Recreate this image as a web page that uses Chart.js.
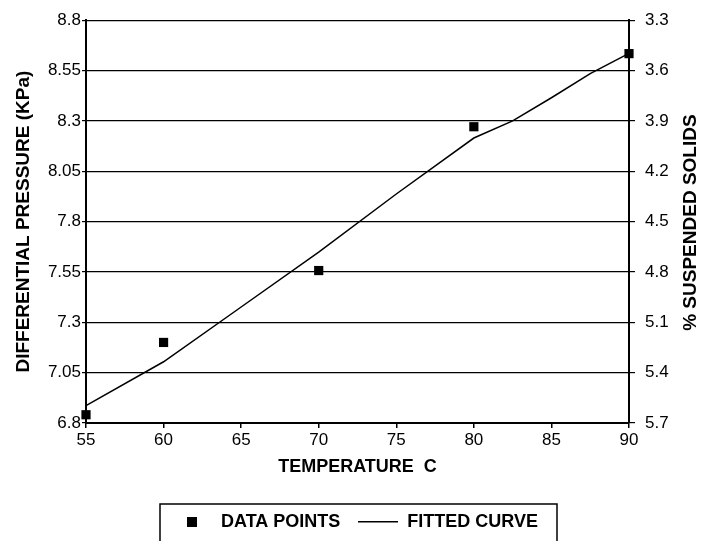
<!DOCTYPE html>
<html>
<head>
<meta charset="utf-8">
<script src="https://cdn.jsdelivr.net/npm/chart.js@4.4.1/dist/chart.umd.min.js"></script>
<style>
body { margin: 0; background: #fff; }
canvas { display: block; }
</style>
</head>
<body>
<canvas id="myChart" width="710" height="541"></canvas>
<script>
// measured points
var temps = [55, 60, 70, 80, 90];
var pressures = [6.841, 7.20, 7.557, 8.271, 8.634];

// fitted curve
var fitTemps = [55, 60, 65, 70, 75, 80, 82.5, 85, 87.5, 90];
var fitPressures = [6.886, 7.104, 7.376, 7.648, 7.937, 8.215, 8.30, 8.415, 8.535, 8.635];

var xTicks = [55, 60, 65, 70, 75, 80, 85, 90];
var leftTicks = [6.8, 7.05, 7.3, 7.55, 7.8, 8.05, 8.3, 8.55, 8.8];
var rightTicks = [3.3, 3.6, 3.9, 4.2, 4.5, 4.8, 5.1, 5.4, 5.7];

var fontFam = '"Liberation Sans", Arial, sans-serif';

function toPoints(xs, ys){
	var pts = [];
	for (var i = 0; i < xs.length; i++){
		pts.push({x: xs[i], y: ys[i]});
	}
	return pts;
}

function setTicks(vals){
	return function(scale){
		scale.ticks = vals.map(function(v){ return {value: v}; });
	};
}

// legend markers
var sq = document.createElement('canvas');
sq.width = 10; sq.height = 10;
var sctx = sq.getContext('2d');
sctx.fillStyle = '#000';
sctx.fillRect(0, 0, 10, 10);

var ln = document.createElement('canvas');
ln.width = 40; ln.height = 2;
var lctx = ln.getContext('2d');
lctx.fillStyle = '#000';
lctx.fillRect(0, 0, 40, 1.5);

// right axis title reads bottom to top, chart.js would turn it the other way
var rightTitle = {
	id: 'rightTitle',
	afterDraw: function(chart){
		var ctx = chart.ctx, a = chart.chartArea;
		ctx.save();
		ctx.translate(chart.width - 19, (a.top + a.bottom) / 2 + 1);
		ctx.rotate(-Math.PI / 2);
		ctx.font = 'bold 19px ' + fontFam;
		ctx.textAlign = 'center';
		ctx.textBaseline = 'middle';
		ctx.fillStyle = '#000';
		ctx.fillText('% SUSPENDED SOLIDS', 0, 0);
		ctx.restore();
	}
};

var legendBox = {
	id: 'legendBox',
	afterDraw: function(chart){
		var hb = chart.legend.legendHitBoxes;
		if (!hb || !hb.length) return;
		var first = hb[0], last = hb[hb.length - 1];
		var ctx = chart.ctx;
		ctx.save();
		ctx.strokeStyle = '#000';
		ctx.lineWidth = 1.5;
		ctx.strokeRect(first.left - 12, first.top - 9, last.left + last.width + 19 - (first.left - 12), 60);
		ctx.restore();
	}
};

new Chart("myChart", {
	type: "scatter",
	data: {
		datasets: [{
			label: "DATA POINTS",
			data: toPoints(temps, pressures),
			pointStyle: "rect",
			pointRadius: 6.5,
			pointHoverRadius: 6.5,
			backgroundColor: "#000",
			borderColor: "#000",
			borderWidth: 0,
			clip: false
		}, {
			label: "FITTED CURVE",
			data: toPoints(fitTemps, fitPressures),
			showLine: true,
			pointRadius: 0,
			borderColor: "#000",
			borderWidth: 1.5,
			tension: 0,
			clip: false
		}]
	},
	options: {
		responsive: false,
		animation: false,
		layout: { padding: { top: 20, left: 0, right: 0, bottom: 0 } },
		plugins: {
			tooltip: { enabled: false },
			legend: {
				position: "bottom",
				labels: {
					usePointStyle: true,
					pointStyleWidth: 40,
					padding: 18,
					color: "#000",
					font: { family: fontFam, size: 18, weight: "bold" },
					generateLabels: function(chart){
						return [
							{ text: "DATA POINTS", pointStyle: sq, fillStyle: "#000", strokeStyle: "#000", lineWidth: 0, hidden: false, datasetIndex: 0 },
							{ text: "FITTED CURVE", pointStyle: ln, fillStyle: "#000", strokeStyle: "#000", lineWidth: 0, hidden: false, datasetIndex: 1 }
						];
					}
				}
			}
		},
		scales: {
			x: {
				type: "linear",
				min: 55,
				max: 90,
				afterBuildTicks: setTicks(xTicks),
				afterFit: function(s){ s.height = 72; },
				grid: { drawOnChartArea: false, drawTicks: true, tickLength: 5, color: "#000", lineWidth: 1.5 },
				border: { display: true, color: "#000", width: 2 },
				ticks: { color: "#000", padding: 2, maxRotation: 0, font: { family: fontFam, size: 17 } },
				title: { display: true, text: "TEMPERATURE  C", color: "#000", padding: { top: 0, bottom: 17 }, font: { family: fontFam, size: 18, weight: "bold" } }
			},
			y: {
				type: "linear",
				position: "left",
				min: 6.8,
				max: 8.8,
				afterBuildTicks: setTicks(leftTicks),
				afterFit: function(s){ s.width = 86; },
				grid: { drawOnChartArea: true, tickLength: 4, color: "#000", lineWidth: 1.2 },
				border: { display: true, color: "#000", width: 2 },
				ticks: { color: "#000", padding: 1, font: { family: fontFam, size: 17 },
					callback: function(v){ return String(+v.toFixed(2)); } },
				title: { display: true, text: "DIFFERENTIAL PRESSURE (KPa)", color: "#000", padding: { top: 12, bottom: 0 }, font: { family: fontFam, size: 19, weight: "bold" } }
			},
			y2: {
				type: "linear",
				position: "right",
				reverse: true,
				min: 3.3,
				max: 5.7,
				afterBuildTicks: setTicks(rightTicks),
				afterFit: function(s){ s.width = 81; },
				grid: { drawOnChartArea: false, tickLength: 6, color: "#000", lineWidth: 1.2 },
				border: { display: true, color: "#000", width: 2 },
				ticks: { color: "#000", padding: 10, font: { family: fontFam, size: 17 },
					callback: function(v){ return v.toFixed(1); } }
			}
		}
	},
	plugins: [rightTitle, legendBox]
});
</script>
</body>
</html>
